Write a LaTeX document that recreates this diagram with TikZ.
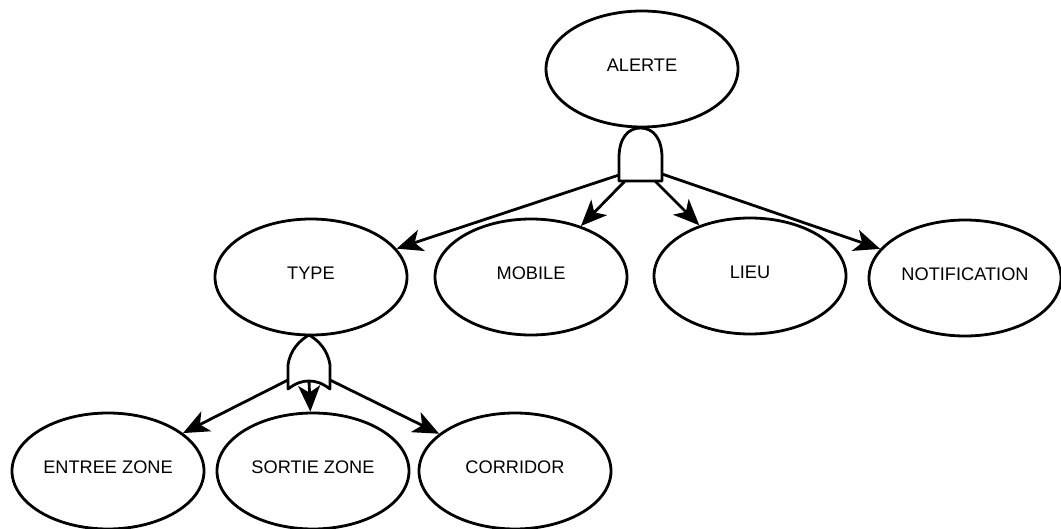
\documentclass[tikz,border=0pt]{standalone}
\usepackage{fontspec}
\setmainfont{Liberation Sans}
\usetikzlibrary{shapes.geometric,arrows.meta}
\tikzset{
  ent/.style={ellipse, draw=black, line width=2.8pt, fill=white,
    minimum width=192pt, minimum height=116pt, inner sep=0pt,
    font=\fontsize{18.2}{20}\selectfont, text depth=8pt},
  conn/.style={line width=2.8pt, -{Stealth[length=26pt,width=22pt,inset=7pt]}},
  gatestyle/.style={draw=black, line width=2.8pt, fill=white, line join=round}
}
\begin{document}
\begin{tikzpicture}[x=1pt,y=-1pt]
\useasboundingbox (0,0) rectangle (1061,529);
\node[ent] (alerte) at (642,69) {ALERTE};
\node[ent] (type) at (311,277) {TYPE};
\node[ent] (mobile) at (531,277) {MOBILE};
\node[ent] (lieu) at (750,276) {LIEU};
\node[ent] (notif) at (965,278) {NOTIFICATION};
\node[ent] (entree) at (108,471) {ENTREE ZONE};
\node[ent] (sortie) at (313,471) {SORTIE ZONE};
\node[ent] (corridor) at (515,471) {CORRIDOR};
% AND gate outlets
\coordinate (a1) at (619,175);
\coordinate (a2) at (625,181);
\coordinate (a3) at (655,181);
\coordinate (a4) at (662,174);
% OR gate outlets
\coordinate (o1) at (288,380);
\coordinate (o2) at (309,381);
\coordinate (o3) at (330,380);
\draw[conn] (a1) -- (type);
\draw[conn] (a2) -- (mobile);
\draw[conn] (a3) -- (lieu);
\draw[conn] (a4) -- (notif);
\draw[conn] (o1) -- (entree);
\draw[conn] (o2) -- (sortie);
\draw[conn] (o3) -- (corridor);
% AND gate
\draw[gatestyle] (619,181) -- (619,158) .. controls (619,138) and (628,128) .. (640.5,128)
  .. controls (653,128) and (662,138) .. (662,158) -- (662,181) -- cycle;
% OR gate
\draw[gatestyle] (288,389) -- (288,365) .. controls (290,350) and (300,340) .. (309,335)
  .. controls (318,340) and (328,350) .. (330,365) -- (330,389)
  .. controls (322,383) and (316,381) .. (309,381)
  .. controls (302,381) and (296,383) .. (288,389) -- cycle;
\draw[line width=2.8pt] (o2) -- ++(0,8);
\end{tikzpicture}
\end{document}
